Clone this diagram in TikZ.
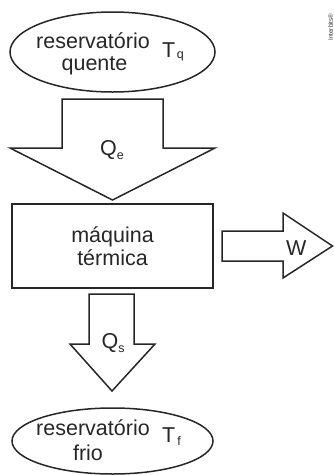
\documentclass[tikz,border=0pt]{standalone}
\usepackage{fontspec}
\setmainfont{Liberation Sans}
\usetikzlibrary{shapes.geometric}
\begin{document}
\begin{tikzpicture}[x=1pt,y=-1pt,
  shp/.style={draw=black!85, line width=1.5pt, line join=miter},
  txt/.style={text=black!85, inner sep=0pt, font=\fontsize{21.5}{23}\selectfont}]
\useasboundingbox (0,0) rectangle (334,475);
% reservoirs
\node[shp, ellipse, minimum width=205pt, minimum height=80pt, inner sep=0pt] (hot) at (112.5,52) {};
\node[shp, ellipse, minimum width=201pt, minimum height=66pt, inner sep=0pt] (cold) at (112.5,441) {};
% machine box
\node[shp, rectangle, minimum width=201pt, minimum height=84pt, inner sep=0pt] (eng) at (112.5,246) {};
% block arrows
\draw[shp] (62,99) -- (163,99) -- (163,148) -- (215,148) -- (112.5,200) -- (10,148) -- (62,148) -- cycle;
\draw[shp] (89,294) -- (134,294) -- (134,344) -- (155,344) -- (112,391) -- (70,344) -- (89,344) -- cycle;
\draw[shp] (222,231) -- (283,231) -- (283,213) -- (332.5,246) -- (283,278) -- (283,261) -- (222,261) -- cycle;
% texts
\node[txt, anchor=base] (h1) at (93,48) {reservatório};
\node[txt, anchor=base] (h2) at (94.5,70) {quente};
\node[txt, anchor=base west] (tq) at (162,57) {T\hspace{1.5pt}{\fontsize{12.5}{12}\selectfont\raisebox{-1pt}{q}}};
\node[txt, anchor=base] (m1) at (112.5,242) {máquina};
\node[txt, anchor=base] (m2) at (112.5,265) {térmica};
\node[txt, anchor=base west] (qe) at (100,155) {Q{\fontsize{12.5}{12}\selectfont\raisebox{-4pt}{e}}};
\node[txt, anchor=base west] (qs) at (101.5,348) {Q{\fontsize{12.5}{12}\selectfont\raisebox{-4pt}{s}}};
\node[txt, anchor=base west] (w) at (286,255) {W};
\node[txt, anchor=base] (c1) at (93,435) {reservatório};
\node[txt, anchor=base] (c2) at (88,460) {frio};
\node[txt, anchor=base west] (tf) at (162,442) {T\hspace{2pt}{\fontsize{12.5}{12}\selectfont\raisebox{-3pt}{f}}};
\node[text=black!80, inner sep=0pt, rotate=90, font=\fontsize{6.3}{7}\selectfont] (cr) at (330.5,27) {Interbits®};
\end{tikzpicture}
\end{document}
